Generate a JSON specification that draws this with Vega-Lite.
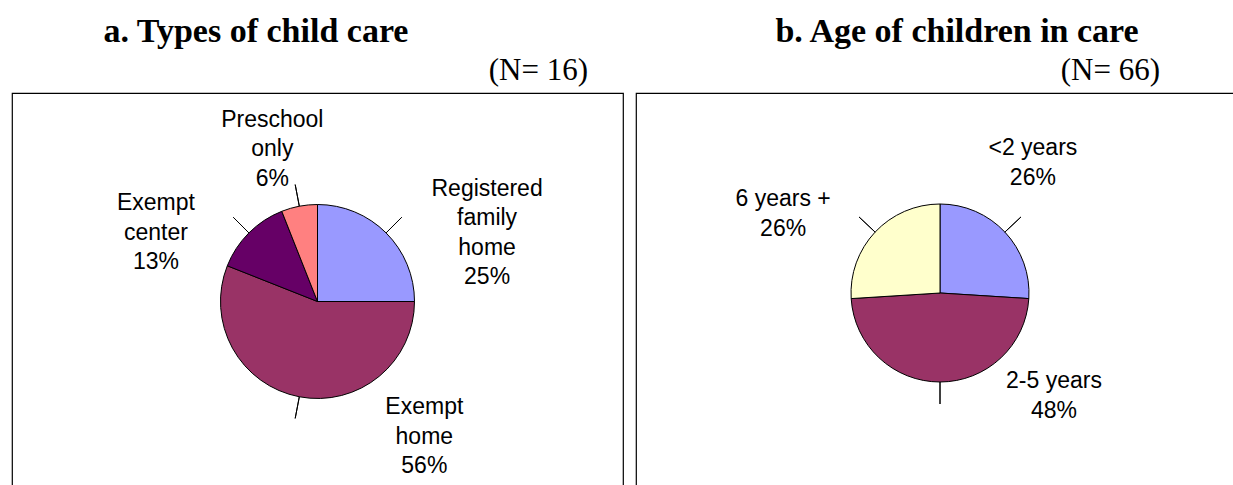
{
  "$schema": "https://vega.github.io/schema/vega-lite/v6.json",
  "padding": {"left": 11, "top": 14, "right": 0, "bottom": 0},
  "background": "white",
  "spacing": 11,
  "config": {
    "view": {"stroke": "#000", "strokeWidth": 1.2},
    "font": "Liberation Sans",
    "title": {"font": "Liberation Serif", "color": "#000"}
  },
  "datasets": {
    "types": [
      {"cat": "Registered family home", "label": "Registered\nfamily\nhome\n25%", "pct": 25, "ord": 1},
      {"cat": "Exempt home", "label": "Exempt\nhome\n56%", "pct": 56, "ord": 2},
      {"cat": "Exempt center", "label": "Exempt\ncenter\n13%", "pct": 13, "ord": 3},
      {"cat": "Preschool only", "label": "Preschool\nonly\n6%", "pct": 6, "ord": 4}
    ],
    "ages": [
      {"cat": "<2 years", "label": "<2 years\n26%", "pct": 26, "ord": 1},
      {"cat": "2-5 years", "label": "2-5 years\n48%", "pct": 48, "ord": 2},
      {"cat": "6 years +", "label": "6 years +\n26%", "pct": 26, "ord": 3}
    ]
  },
  "hconcat": [
    {
      "title": {"text": "a. Types of child care", "anchor": "start", "dx": 92, "fontSize": 34, "fontWeight": "bold", "baseline": "alphabetic", "offset": -22},
      "vconcat": [
        {
          "title": {"text": "(N= 16)", "anchor": "end", "dx": -35, "fontSize": 31, "fontWeight": "normal", "baseline": "alphabetic", "offset": -17.5},
          "view": {"style": "cell", "stroke": "#000", "strokeWidth": 1.2},
          "width": 611,
          "height": 417,
          "data": {"name": "types"},
          "transform": [{"stack": "pct", "groupby": [], "sort": [{"field": "ord", "order": "ascending"}], "as": ["s0", "s1"]}],
          "layer": [
            {
              "mark": {"type": "arc", "radius": 97, "stroke": "#000", "strokeWidth": 1},
              "encoding": {
                "theta": {"field": "s0", "type": "quantitative", "scale": {"domain": [0, 100]}},
                "theta2": {"field": "s1"},
                "color": {"field": "cat", "type": "nominal", "legend": null,
                  "scale": {"domain": ["Registered family home", "Exempt home", "Exempt center", "Preschool only", "<2 years", "2-5 years", "6 years +"],
                            "range": ["#9999FF", "#993366", "#660066", "#FF8080", "#9999FF", "#993366", "#FFFFCC"]}}
              }
            },
            {
              "transform": [
                {"fold": ["s0", "s1"], "as": ["edge", "ang"]},
                {"aggregate": [{"op": "mean", "field": "ang", "as": "mid"}], "groupby": ["cat", "label"]}
              ],
              "layer": [
                {
                  "mark": {"type": "arc", "radius": 119, "radius2": 97, "filled": false, "stroke": "#000", "strokeWidth": 1},
                  "encoding": {"theta": {"field": "mid", "type": "quantitative", "scale": {"domain": [0, 100]}}, "theta2": {"field": "mid"}}
                },
                {
                  "transform": [{"filter": "datum.cat === 'Registered family home'"}],
                  "mark": {"type": "text", "radius": 97, "dx": 101, "dy": -44, "lineBreak": "\n", "lineHeight": 29.5, "fontSize": 23, "align": "center", "baseline": "middle", "color": "#000"},
                  "encoding": {"theta": {"field": "mid", "type": "quantitative", "stack": null, "scale": {"domain": [0, 100]}}, "text": {"field": "label"}}
                },
                {
                  "transform": [{"filter": "datum.cat === 'Exempt home'"}],
                  "mark": {"type": "text", "radius": 97, "dx": 125, "dy": 10.5, "lineBreak": "\n", "lineHeight": 29.5, "fontSize": 23, "align": "center", "baseline": "middle", "color": "#000"},
                  "encoding": {"theta": {"field": "mid", "type": "quantitative", "stack": null, "scale": {"domain": [0, 100]}}, "text": {"field": "label"}}
                },
                {
                  "transform": [{"filter": "datum.cat === 'Exempt center'"}],
                  "mark": {"type": "text", "radius": 97, "dx": -93, "dy": -29.5, "lineBreak": "\n", "lineHeight": 29.5, "fontSize": 23, "align": "center", "baseline": "middle", "color": "#000"},
                  "encoding": {"theta": {"field": "mid", "type": "quantitative", "stack": null, "scale": {"domain": [0, 100]}}, "text": {"field": "label"}}
                },
                {
                  "transform": [{"filter": "datum.cat === 'Preschool only'"}],
                  "mark": {"type": "text", "radius": 97, "dx": -27, "dy": -86.5, "lineBreak": "\n", "lineHeight": 29.5, "fontSize": 23, "align": "center", "baseline": "middle", "color": "#000"},
                  "encoding": {"theta": {"field": "mid", "type": "quantitative", "stack": null, "scale": {"domain": [0, 100]}}, "text": {"field": "label"}}
                }
              ]
            }
          ]
        }
      ]
    },
    {
      "title": {"text": "b. Age of children in care", "anchor": "start", "dx": 140, "fontSize": 34, "fontWeight": "bold", "baseline": "alphabetic", "offset": -22},
      "vconcat": [
        {
          "title": {"text": "(N= 66)", "anchor": "end", "dx": -84, "fontSize": 31, "fontWeight": "normal", "baseline": "alphabetic", "offset": -17.5},
          "view": {"style": "cell", "stroke": "#000", "strokeWidth": 1.2},
          "width": 608,
          "height": 400,
          "data": {"name": "ages"},
          "transform": [{"stack": "pct", "groupby": [], "sort": [{"field": "ord", "order": "ascending"}], "as": ["s0", "s1"]}],
          "layer": [
            {
              "mark": {"type": "arc", "radius": 89, "stroke": "#000", "strokeWidth": 1},
              "encoding": {
                "theta": {"field": "s0", "type": "quantitative", "scale": {"domain": [0, 100]}},
                "theta2": {"field": "s1"},
                "color": {"field": "cat", "type": "nominal", "legend": null,
                  "scale": {"domain": ["Registered family home", "Exempt home", "Exempt center", "Preschool only", "<2 years", "2-5 years", "6 years +"],
                            "range": ["#9999FF", "#993366", "#660066", "#FF8080", "#9999FF", "#993366", "#FFFFCC"]}}
              }
            },
            {
              "transform": [
                {"fold": ["s0", "s1"], "as": ["edge", "ang"]},
                {"aggregate": [{"op": "mean", "field": "ang", "as": "mid"}], "groupby": ["cat", "label"]}
              ],
              "layer": [
                {
                  "mark": {"type": "arc", "radius": 111, "radius2": 89, "filled": false, "stroke": "#000", "strokeWidth": 1},
                  "encoding": {"theta": {"field": "mid", "type": "quantitative", "scale": {"domain": [0, 100]}}, "theta2": {"field": "mid"}}
                },
                {
                  "transform": [{"filter": "datum.cat === '<2 years'"}],
                  "mark": {"type": "text", "radius": 89, "dx": 28, "dy": -84, "lineBreak": "\n", "lineHeight": 29.5, "fontSize": 23, "align": "center", "baseline": "middle", "color": "#000"},
                  "encoding": {"theta": {"field": "mid", "type": "quantitative", "stack": null, "scale": {"domain": [0, 100]}}, "text": {"field": "label"}}
                },
                {
                  "transform": [{"filter": "datum.cat === '2-5 years'"}],
                  "mark": {"type": "text", "radius": 89, "dx": 114, "dy": -1, "lineBreak": "\n", "lineHeight": 29.5, "fontSize": 23, "align": "center", "baseline": "middle", "color": "#000"},
                  "encoding": {"theta": {"field": "mid", "type": "quantitative", "stack": null, "scale": {"domain": [0, 100]}}, "text": {"field": "label"}}
                },
                {
                  "transform": [{"filter": "datum.cat === '6 years +'"}],
                  "mark": {"type": "text", "radius": 89, "dx": -92, "dy": -33, "lineBreak": "\n", "lineHeight": 29.5, "fontSize": 23, "align": "center", "baseline": "middle", "color": "#000"},
                  "encoding": {"theta": {"field": "mid", "type": "quantitative", "stack": null, "scale": {"domain": [0, 100]}}, "text": {"field": "label"}}
                }
              ]
            }
          ]
        }
      ]
    }
  ]
}
